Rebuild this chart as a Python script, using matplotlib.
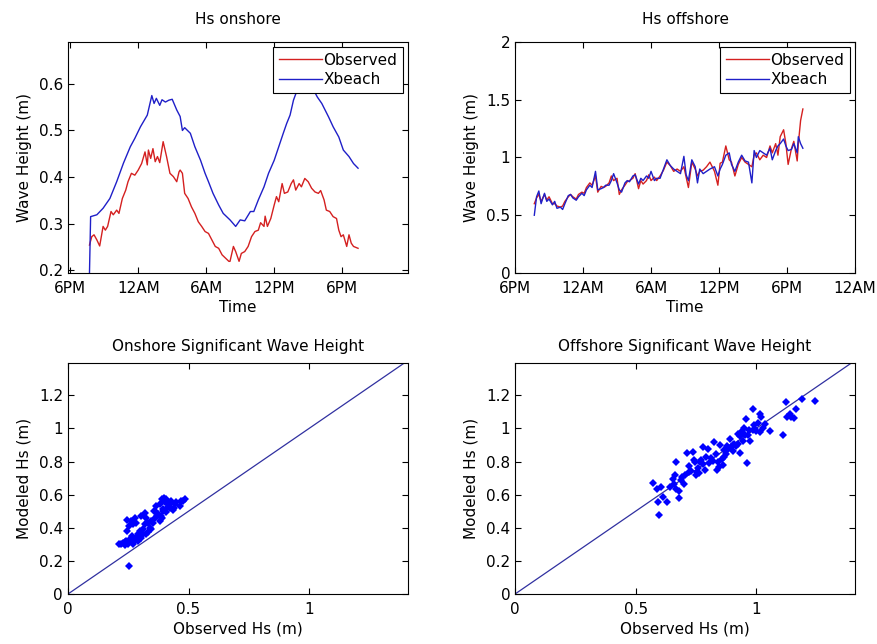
import matplotlib
matplotlib.use("Agg")
import matplotlib.pyplot as plt

plt.rcParams['font.family'] = ['DejaVu Sans']
plt.rcParams['font.size'] = 11

# hours after 6PM on the first day
tick_hours = [0, 6, 12, 18, 24, 30]
tick_names = ["6PM", "12AM", "6AM", "12PM", "6PM", "12AM"]

# onshore time series
on_obs_t = [1.7, 1.9, 2.1, 2.35, 2.6, 2.9, 3.1, 3.3, 3.6, 3.8, 4.1, 4.3, 4.6, 4.9, 5.1, 5.4,
            5.7, 6.0, 6.3, 6.6, 6.8, 6.9, 7.1, 7.3, 7.5, 7.7, 7.9, 8.2, 8.5, 8.8, 9.1, 9.4,
            9.6, 9.7, 9.9, 10.1, 10.4, 10.7, 11.0, 11.3, 11.6, 11.9, 12.2, 12.5, 12.8, 13.1,
            13.4, 13.7, 14.0, 14.1, 14.4, 14.6, 14.9, 15.1, 15.4, 15.7, 16.0, 16.3, 16.6,
            16.8, 17.1, 17.2, 17.4, 17.7, 18.0, 18.2, 18.4, 18.7, 18.9, 19.2, 19.5, 19.7,
            19.9, 20.2, 20.4, 20.7, 21.0, 21.3, 21.6, 21.9, 22.1, 22.4, 22.6, 22.9, 23.2,
            23.5, 23.7, 23.9, 24.1, 24.4, 24.6, 24.8, 25.0, 25.4]
on_obs = [0.254, 0.272, 0.276, 0.265, 0.252, 0.294, 0.286, 0.294, 0.326, 0.319, 0.329, 0.322,
          0.354, 0.372, 0.390, 0.408, 0.404, 0.415, 0.429, 0.454, 0.426, 0.458, 0.440, 0.461,
          0.433, 0.444, 0.431, 0.476, 0.444, 0.408, 0.401, 0.390, 0.411, 0.415, 0.408, 0.365,
          0.354, 0.336, 0.322, 0.304, 0.294, 0.283, 0.279, 0.265, 0.251, 0.247, 0.233, 0.226,
          0.219, 0.219, 0.251, 0.240, 0.219, 0.236, 0.240, 0.251, 0.272, 0.283, 0.286, 0.302,
          0.294, 0.316, 0.294, 0.311, 0.340, 0.358, 0.347, 0.386, 0.365, 0.368, 0.386, 0.394,
          0.372, 0.386, 0.379, 0.397, 0.390, 0.376, 0.368, 0.365, 0.371, 0.351, 0.329, 0.326,
          0.315, 0.311, 0.286, 0.272, 0.276, 0.251, 0.276, 0.258, 0.251, 0.247]
on_xb_t = [1.7, 1.8, 2.35, 2.9, 3.5, 4.1, 4.7, 5.3, 5.7, 6.2, 6.8, 7.2, 7.4, 7.6, 7.9, 8.1,
           8.4, 8.7, 9.0, 9.4, 9.7, 9.9, 10.1, 10.6, 11.0, 11.5, 11.9, 12.2, 12.6, 13.1, 13.5,
           14.1, 14.6, 15.0, 15.4, 15.9, 16.2, 16.6, 17.1, 17.5, 18.0, 18.4, 18.8, 19.1, 19.4,
           19.7, 20.0, 20.3, 20.9, 21.5, 21.8, 22.2, 22.8, 23.2, 23.7, 24.1, 24.6, 25.0, 25.4]
on_xb = [0.195, 0.315, 0.319, 0.333, 0.354, 0.390, 0.430, 0.465, 0.483, 0.508, 0.533, 0.575,
         0.558, 0.569, 0.554, 0.566, 0.561, 0.565, 0.567, 0.544, 0.530, 0.500, 0.506, 0.494,
         0.465, 0.436, 0.408, 0.390, 0.365, 0.340, 0.322, 0.308, 0.294, 0.308, 0.306, 0.326,
         0.326, 0.351, 0.379, 0.408, 0.436, 0.465, 0.494, 0.515, 0.533, 0.565, 0.585, 0.594,
         0.605, 0.586, 0.572, 0.558, 0.529, 0.508, 0.486, 0.458, 0.444, 0.429, 0.419]

# offshore time series (same times for both)
off_t = [1.7, 1.9, 2.1, 2.3, 2.6, 2.8, 3.0, 3.3, 3.5, 3.7, 4.0, 4.2, 4.4, 4.7, 4.9, 5.1, 5.4,
         5.6, 5.9, 6.1, 6.3, 6.6, 6.8, 7.1, 7.3, 7.6, 7.8, 8.0, 8.3, 8.5, 8.7, 9.0, 9.2, 9.4,
         9.7, 9.9, 10.1, 10.4, 10.6, 10.9, 11.1, 11.3, 11.6, 11.8, 12.0, 12.3, 12.5, 12.8,
         13.1, 13.4, 13.7, 14.0, 14.3, 14.6, 14.9, 15.1, 15.3, 15.6, 15.9, 16.1, 16.3, 16.6,
         16.9, 17.2, 17.6, 17.9, 18.1, 18.3, 18.6, 18.9, 19.1, 19.4, 19.7, 20.0, 20.3, 20.6,
         20.9, 21.1, 21.3, 21.6, 21.9, 22.2, 22.5, 22.7, 23.0, 23.2, 23.4, 23.7, 23.9, 24.1,
         24.4, 24.6, 24.9, 25.0, 25.2, 25.4]
off_obs = [0.60, 0.65, 0.68, 0.62, 0.68, 0.63, 0.66, 0.60, 0.60, 0.58, 0.57, 0.58, 0.62, 0.66,
           0.68, 0.66, 0.64, 0.68, 0.70, 0.69, 0.74, 0.78, 0.76, 0.84, 0.70, 0.75, 0.74, 0.75,
           0.78, 0.84, 0.80, 0.82, 0.68, 0.72, 0.76, 0.79, 0.80, 0.82, 0.86, 0.73, 0.80, 0.77,
           0.80, 0.85, 0.80, 0.83, 0.80, 0.84, 0.89, 0.96, 0.93, 0.88, 0.90, 0.88, 0.92, 0.83,
           0.74, 0.96, 0.90, 0.84, 0.88, 0.89, 0.92, 0.96, 0.88, 0.76, 0.95, 0.96, 1.10, 0.98,
           0.96, 0.84, 0.94, 1.00, 0.96, 0.94, 0.92, 1.02, 1.04, 0.98, 1.02, 1.00, 1.10, 1.04,
           1.12, 1.02, 1.18, 1.24, 1.12, 0.94, 1.08, 1.14, 0.97, 1.12, 1.32, 1.42]
off_xb = [0.50, 0.66, 0.71, 0.60, 0.69, 0.62, 0.64, 0.59, 0.62, 0.56, 0.57, 0.55, 0.60, 0.67,
          0.68, 0.65, 0.63, 0.66, 0.69, 0.67, 0.72, 0.76, 0.74, 0.88, 0.72, 0.73, 0.74, 0.76,
          0.76, 0.80, 0.86, 0.78, 0.72, 0.70, 0.78, 0.80, 0.79, 0.84, 0.85, 0.77, 0.82, 0.80,
          0.84, 0.82, 0.88, 0.80, 0.82, 0.82, 0.90, 0.98, 0.93, 0.90, 0.88, 0.86, 1.01, 0.85,
          0.80, 0.98, 0.92, 0.78, 0.90, 0.86, 0.88, 0.90, 0.92, 0.84, 0.90, 0.94, 1.02, 1.04,
          0.94, 0.88, 0.96, 1.02, 0.97, 0.96, 0.78, 1.06, 1.00, 1.06, 1.04, 1.02, 1.08, 0.98,
          1.06, 1.10, 1.12, 1.16, 1.10, 1.06, 1.07, 1.12, 1.04, 1.18, 1.12, 1.08]

# scatter: observed vs modeled
on_sc_obs = [0.213, 0.228, 0.235, 0.242, 0.249, 0.256, 0.246, 0.252, 0.260, 0.270, 0.277, 0.284,
             0.266, 0.274, 0.284, 0.291, 0.298, 0.291, 0.305, 0.312, 0.318, 0.305, 0.318, 0.325,
             0.330, 0.339, 0.346, 0.353, 0.360, 0.367, 0.374, 0.381, 0.388, 0.394, 0.401, 0.408,
             0.415, 0.422, 0.429, 0.435, 0.443, 0.450, 0.464, 0.478, 0.252, 0.388, 0.408, 0.360,
             0.332, 0.381, 0.222, 0.238, 0.262, 0.280, 0.300, 0.322, 0.345, 0.370, 0.395, 0.420,
             0.440, 0.470, 0.485, 0.245, 0.268, 0.310, 0.355, 0.398, 0.412, 0.385]
on_sc_mod = [0.300, 0.310, 0.296, 0.320, 0.304, 0.330, 0.381, 0.411, 0.441, 0.421, 0.462, 0.431,
             0.350, 0.320, 0.340, 0.360, 0.381, 0.320, 0.340, 0.391, 0.421, 0.472, 0.492, 0.462,
             0.374, 0.401, 0.441, 0.431, 0.502, 0.532, 0.482, 0.543, 0.462, 0.512, 0.553, 0.494,
             0.543, 0.522, 0.563, 0.506, 0.543, 0.553, 0.532, 0.563, 0.168, 0.573, 0.573, 0.462,
             0.431, 0.441, 0.305, 0.315, 0.325, 0.335, 0.355, 0.365, 0.390, 0.470, 0.500, 0.540,
             0.520, 0.560, 0.575, 0.445, 0.300, 0.360, 0.500, 0.580, 0.520, 0.470]

off_sc_obs = [0.572, 0.590, 0.604, 0.594, 0.597, 0.615, 0.632, 0.643, 0.656, 0.662, 0.667, 0.669,
              0.678, 0.682, 0.660, 0.688, 0.694, 0.701, 0.706, 0.713, 0.722, 0.729, 0.739, 0.743,
              0.750, 0.754, 0.761, 0.767, 0.771, 0.778, 0.781, 0.788, 0.792, 0.799, 0.806, 0.819,
              0.826, 0.833, 0.838, 0.847, 0.851, 0.857, 0.861, 0.868, 0.875, 0.879, 0.885, 0.890,
              0.896, 0.903, 0.910, 0.917, 0.924, 0.926, 0.931, 0.935, 0.942, 0.944, 0.949, 0.958,
              0.961, 0.965, 0.972, 0.976, 0.986, 0.990, 0.996, 1.007, 1.014, 1.017, 1.021, 1.028,
              1.038, 1.056, 1.111, 1.125, 1.129, 1.139, 1.146, 1.157, 1.167, 1.192, 1.246, 0.722,
              0.745, 0.760, 0.812, 0.842, 0.866, 0.905, 0.955, 0.985, 1.000]
off_sc_mod = [0.671, 0.635, 0.645, 0.554, 0.478, 0.585, 0.558, 0.649, 0.696, 0.716, 0.796, 0.635,
              0.625, 0.581, 0.665, 0.690, 0.706, 0.665, 0.716, 0.851, 0.736, 0.742, 0.857, 0.810,
              0.716, 0.736, 0.730, 0.796, 0.810, 0.887, 0.786, 0.746, 0.827, 0.877, 0.790, 0.806,
              0.917, 0.843, 0.746, 0.766, 0.901, 0.817, 0.782, 0.827, 0.847, 0.891, 0.877, 0.938,
              0.887, 0.861, 0.907, 0.891, 0.903, 0.968, 0.851, 0.952, 0.984, 0.923, 1.004, 1.058,
              0.790, 0.958, 0.988, 0.927, 1.119, 1.018, 0.998, 1.032, 0.978, 1.085, 1.069, 1.004,
              1.028, 0.984, 0.958, 1.159, 1.069, 1.085, 1.069, 1.065, 1.119, 1.177, 1.163, 0.776,
              0.800, 0.760, 0.820, 0.800, 0.870, 0.900, 0.960, 0.990, 0.985]

one_to_one = [0, 1.4]

red = '#d42020'
blue = '#1f1fc8'


def matlab_box(ax):
    ax.tick_params(direction='in', top=True, right=True, length=4, width=0.8)
    ax.tick_params(axis='x', pad=6)
    for s in ax.spines.values():
        s.set_linewidth(0.8)


def num_label(v):
    return ('%g' % v)


fig = plt.figure(figsize=(8.78, 6.44), dpi=100)

# Hs onshore
ax1 = fig.add_axes([0.0774, 0.5761, 0.3872, 0.3587])
ax1.plot(on_obs_t, on_obs, color=red, lw=1, label='Observed')
ax1.plot(on_xb_t, on_xb, color=blue, lw=1, label='Xbeach')
ax1.set_xlim(-0.2, 29.8)
ax1.set_ylim(0.194, 0.69)
ax1.set_xticks(tick_hours[:5])
ax1.set_xticklabels(tick_names[:5])
yt = [0.2, 0.3, 0.4, 0.5, 0.6]
ax1.set_yticks(yt)
ax1.set_yticklabels([num_label(v) for v in yt])
ax1.set_title('Hs onshore', fontsize=11, pad=13)
ax1.set_xlabel('Time', labelpad=3)
ax1.set_ylabel('Wave Height (m)', labelpad=5)
leg = ax1.legend(loc='upper right', fancybox=False, edgecolor='black', framealpha=1,
                 borderaxespad=0.3, handlelength=2.8, handletextpad=0.1, labelspacing=0.3)
leg.get_frame().set_linewidth(0.8)
matlab_box(ax1)

# Hs offshore
ax2 = fig.add_axes([0.5866, 0.5761, 0.3872, 0.3587])
ax2.plot(off_t, off_obs, color=red, lw=1, label='Observed')
ax2.plot(off_t, off_xb, color=blue, lw=1, label='Xbeach')
ax2.set_xlim(0, 30)
ax2.set_ylim(0, 2)
ax2.set_xticks(tick_hours)
ax2.set_xticklabels(tick_names)
yt = [0, 0.5, 1, 1.5, 2]
ax2.set_yticks(yt)
ax2.set_yticklabels([num_label(v) for v in yt])
ax2.set_title('Hs offshore', fontsize=11, pad=13)
ax2.set_xlabel('Time', labelpad=3)
ax2.set_ylabel('Wave Height (m)', labelpad=5)
leg = ax2.legend(loc='upper right', fancybox=False, edgecolor='black', framealpha=1,
                 borderaxespad=0.3, handlelength=2.8, handletextpad=0.1, labelspacing=0.3)
leg.get_frame().set_linewidth(0.8)
matlab_box(ax2)

# scatter panels
for pos, xs, ys, title in [([0.0774, 0.0776, 0.3872, 0.3587], on_sc_obs, on_sc_mod,
                            'Onshore Significant Wave Height'),
                           ([0.5866, 0.0776, 0.3872, 0.3587], off_sc_obs, off_sc_mod,
                            'Offshore Significant Wave Height')]:
    ax = fig.add_axes(pos)
    ax.plot(one_to_one, one_to_one, color='#3030a0', lw=0.9)
    ax.plot(xs, ys, 'D', color='#0000ff', markersize=3.6, markeredgewidth=0)
    ax.set_xlim(0, 1.41)
    ax.set_ylim(0, 1.395)
    xt = [0, 0.5, 1]
    ax.set_xticks(xt)
    ax.set_xticklabels([num_label(v) for v in xt])
    yt = [0, 0.2, 0.4, 0.6, 0.8, 1, 1.2]
    ax.set_yticks(yt)
    ax.set_yticklabels([num_label(v) for v in yt])
    ax.set_title(title, fontsize=11, pad=9)
    ax.set_xlabel('Observed Hs (m)', labelpad=3)
    ax.set_ylabel('Modeled Hs (m)', labelpad=5)
    matlab_box(ax)

fig.savefig('out.png', dpi=100)
